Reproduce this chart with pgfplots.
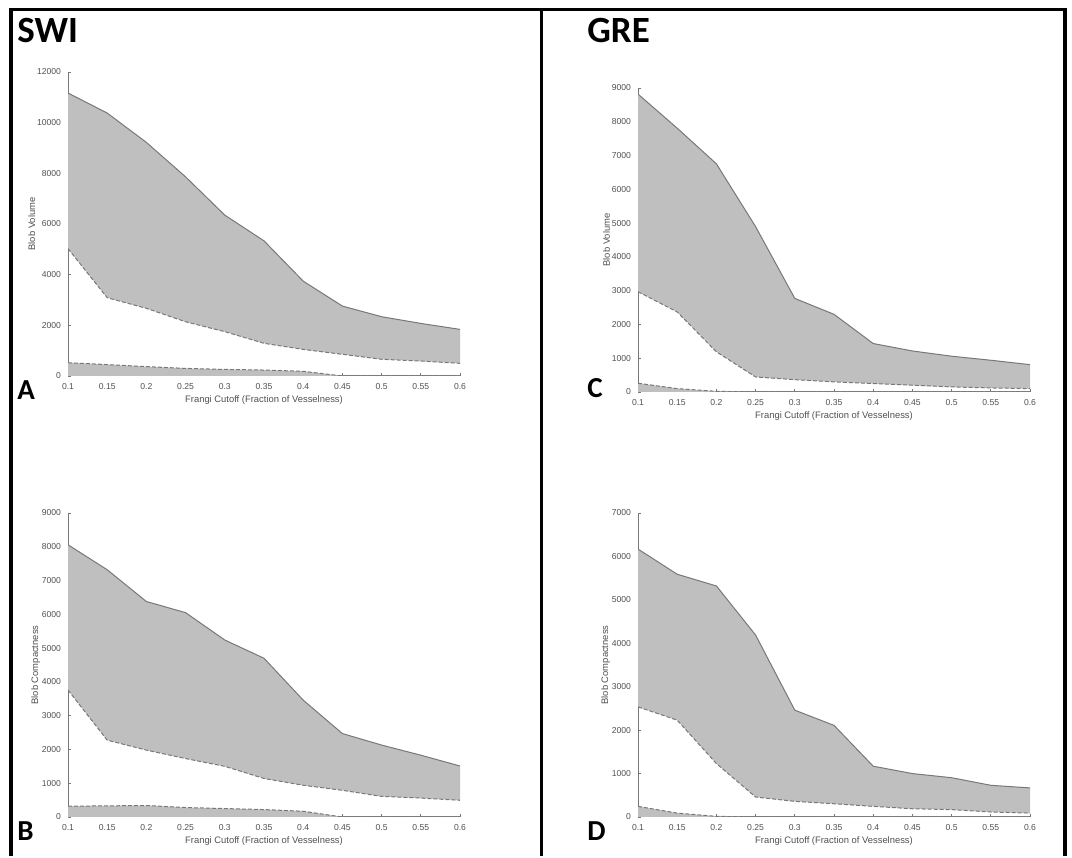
\documentclass[border=0pt]{standalone}
\usepackage{fontspec}
\setmainfont{Liberation Sans}
\newfontfamily\panelfont{Carlito}
\usepackage{pgfplots}
\usepackage{pgfplotstable}
\pgfplotsset{compat=1.18}
\usepgfplotslibrary{fillbetween}

\definecolor{bandgray}{RGB}{191,191,191}
\definecolor{linegray}{RGB}{120,120,120}
\definecolor{axisgray}{RGB}{120,120,120}
\definecolor{labelgray}{RGB}{80,80,80}

% x, upper (solid), lower (dashed), base band top (dashed)
\pgfplotstableread{
x    up     lo    base
0.10 11170  5030  525
0.15 10380  3090  450
0.20 9220   2670  370
0.25 7860   2140  300
0.30 6350   1750  260
0.35 5335   1290  235
0.40 3745   1050  185
0.45 2760   855   0
0.50 2340   660   0
0.55 2076   590   0
0.60 1840   500   0
}\swivol
\pgfplotstableread{
x    up    lo    base
0.10 8060  3760  320
0.15 7320  2275  330
0.20 6380  1980  340
0.25 6050  1730  280
0.30 5240  1500  250
0.35 4700  1140  220
0.40 3460  940   170
0.45 2470  790   0
0.50 2130  610   0
0.55 1830  560   0
0.60 1510  495   0
}\swicomp
\pgfplotstableread{
x    up    lo    base
0.10 8820  2970  260
0.15 7810  2370  100
0.20 6755  1190  20
0.25 4895  445   0
0.30 2770  365   0
0.35 2300  300   0
0.40 1435  250   0
0.45 1215  200   0
0.50 1060  150   0
0.55 940   120   0
0.60 810   100   0
}\grevol
\pgfplotstableread{
x    up    lo    base
0.10 6170  2535  245
0.15 5590  2230  90
0.20 5320  1230  15
0.25 4190  460   0
0.30 2460  360   0
0.35 2110  305   0
0.40 1170  245   0
0.45 1000  190   0
0.50 905   170   0
0.55 730   115   0
0.60 670   90    0
}\grecomp

\pgfplotsset{
  panel/.style={
    scale only axis, width=196pt, height=152pt,
    axis x line=bottom, axis y line=left,
    axis line style={-, axisgray, line width=0.5pt},
    tick style={axisgray, line width=0.4pt},
    tick align=inside, major tick length=1.6pt,
    xmin=0.1, xmax=0.6, xtick={0.1,0.15,...,0.6}, ymin=0,
    scaled y ticks=false,
    xticklabel style={/pgf/number format/fixed, /pgf/number format/precision=2},
    yticklabel style={/pgf/number format/fixed, /pgf/number format/set thousands separator={}},
    /pgf/number format/assume math mode=true,
    tick label style={font=\fontsize{4.3}{5}\selectfont, text=labelgray},
    label style={font=\fontsize{4.7}{5.6}\selectfont, text=labelgray},
    xlabel={Frangi Cutoff (Fraction of Vesselness)},
    xlabel style={yshift=3.5pt},
    ylabel style={yshift=-6pt},
    xtick pos=bottom, ytick pos=left,
  },
  upline/.style={linegray, line width=0.5pt},
  loline/.style={linegray, line width=0.5pt, dash pattern=on 2pt off 1pt},
}

\begin{document}
\begin{tikzpicture}
\path (0,0) rectangle (536pt,428pt);

% frame
\draw[line width=1.6pt] (5.5pt,0) -- (5.5pt,423.2pt) -- (532.5pt,423.2pt) -- (532.5pt,0);
\draw[line width=1.6pt] (270.8pt,0) -- (270.8pt,423.2pt);

% A: SWI volume
\begin{axis}[panel, at={(34pt,240pt)}, anchor=south west, ymax=12000,
  ytick={0,2000,...,12000}, ylabel={Blob Volume}]
  \addplot[name path=up, draw=none] table[x=x, y=up] {\swivol};
  \addplot[name path=lo, draw=none] table[x=x, y=lo] {\swivol};
  \addplot[bandgray] fill between[of=up and lo];
  \addplot[fill=bandgray, draw=none] table[x=x, y=base] {\swivol} \closedcycle;
  \addplot[upline] table[x=x, y=up] {\swivol};
  \addplot[loline] table[x=x, y=lo] {\swivol};
  \addplot[loline] table[x=x, y=base] {\swivol};
\end{axis}

% B: SWI compactness
\begin{axis}[panel, at={(34pt,19.5pt)}, anchor=south west, ymax=9000,
  ytick={0,1000,...,9000}, ylabel={Blob Compactness}]
  \addplot[name path=up, draw=none] table[x=x, y=up] {\swicomp};
  \addplot[name path=lo, draw=none] table[x=x, y=lo] {\swicomp};
  \addplot[bandgray] fill between[of=up and lo];
  \addplot[fill=bandgray, draw=none] table[x=x, y=base] {\swicomp} \closedcycle;
  \addplot[upline] table[x=x, y=up] {\swicomp};
  \addplot[loline] table[x=x, y=lo] {\swicomp};
  \addplot[loline] table[x=x, y=base] {\swicomp};
\end{axis}

% C: GRE volume
\begin{axis}[panel, at={(319pt,232pt)}, anchor=south west, ymax=9000,
  ytick={0,1000,...,9000}, ylabel={Blob Volume}]
  \addplot[name path=up, draw=none] table[x=x, y=up] {\grevol};
  \addplot[name path=lo, draw=none] table[x=x, y=lo] {\grevol};
  \addplot[bandgray] fill between[of=up and lo];
  \addplot[fill=bandgray, draw=none] table[x=x, y=base] {\grevol} \closedcycle;
  \addplot[upline] table[x=x, y=up] {\grevol};
  \addplot[loline] table[x=x, y=lo] {\grevol};
  \addplot[loline] table[x=x, y=base] {\grevol};
\end{axis}

% D: GRE compactness
\begin{axis}[panel, at={(319pt,19.5pt)}, anchor=south west, ymax=7000,
  ytick={0,1000,...,7000}, ylabel={Blob Compactness}]
  \addplot[name path=up, draw=none] table[x=x, y=up] {\grecomp};
  \addplot[name path=lo, draw=none] table[x=x, y=lo] {\grecomp};
  \addplot[bandgray] fill between[of=up and lo];
  \addplot[fill=bandgray, draw=none] table[x=x, y=base] {\grecomp} \closedcycle;
  \addplot[upline] table[x=x, y=up] {\grecomp};
  \addplot[loline] table[x=x, y=lo] {\grecomp};
  \addplot[loline] table[x=x, y=base] {\grecomp};
\end{axis}

\begin{scope}[every node/.style={inner sep=0pt, anchor=base west}]
\node at (8.5pt,406.5pt) {\panelfont\bfseries\fontsize{18.5}{20}\selectfont SWI};
\node at (293.5pt,406.5pt) {\panelfont\bfseries\fontsize{18.5}{20}\selectfont GRE};
\node at (8.5pt,228pt) {\panelfont\bfseries\fontsize{14.5}{16}\selectfont A};
\node at (8.5pt,8pt) {\panelfont\bfseries\fontsize{14.5}{16}\selectfont B};
\node at (293.5pt,229pt) {\panelfont\bfseries\fontsize{14.5}{16}\selectfont C};
\node at (293.5pt,8pt) {\panelfont\bfseries\fontsize{14.5}{16}\selectfont D};
\end{scope}
\end{tikzpicture}
\end{document}
